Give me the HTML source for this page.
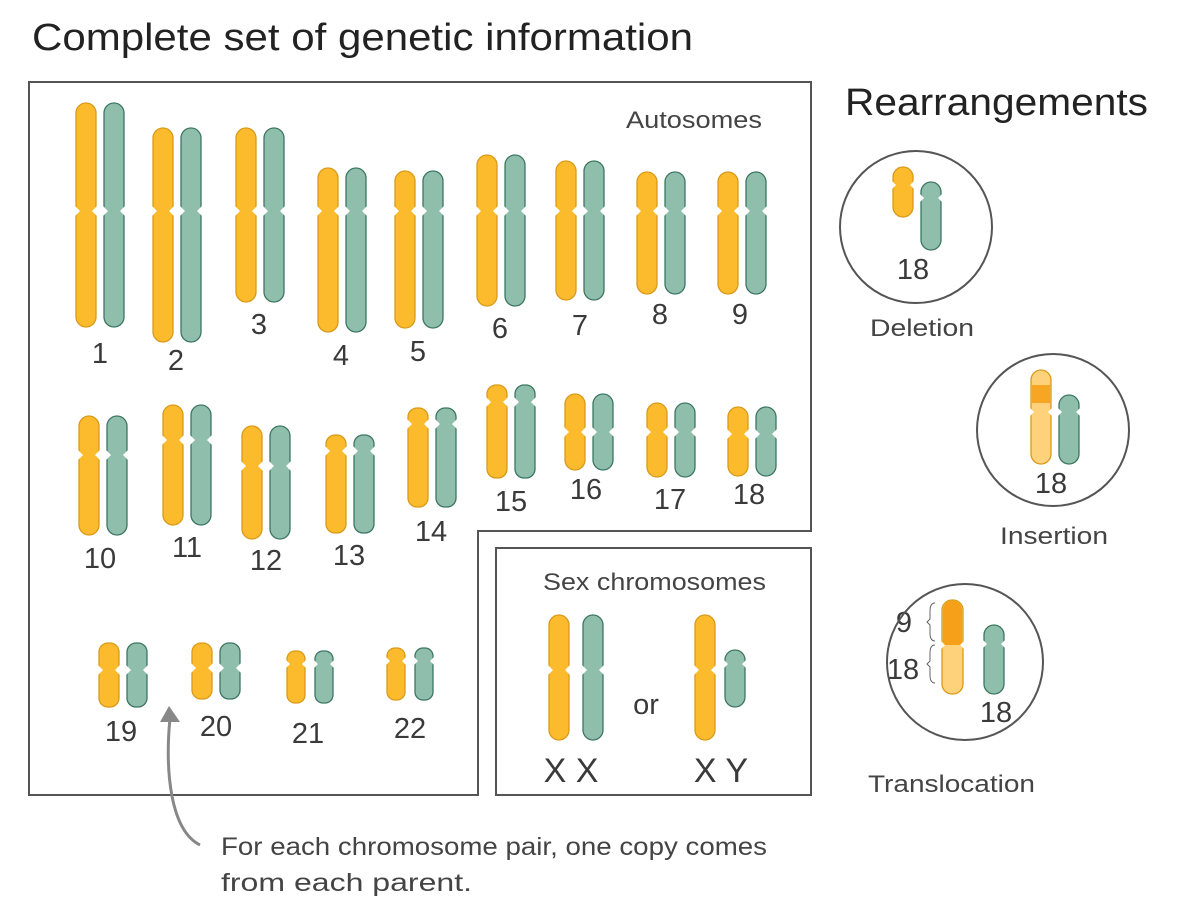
<!DOCTYPE html>
<html><head><meta charset="utf-8"><style>
body{margin:0;background:#fff}
svg{display:block;font-family:"Liberation Sans",sans-serif;fill:#333}
.y{fill:#fbbb2d;stroke:#d99a1a;stroke-width:1.3}
.g{fill:#8fbfac;stroke:#3d7563;stroke-width:1.3}
.l{font-size:29px;text-anchor:middle;fill:#3a3a3a}
</style></head><body>
<svg width="1178" height="915" viewBox="0 0 1178 915">
<text x="32" y="50" font-size="38" fill="#222" textLength="661" lengthAdjust="spacingAndGlyphs">Complete set of genetic information</text>
<text x="845" y="115" font-size="38" fill="#222" textLength="303" lengthAdjust="spacingAndGlyphs">Rearrangements</text>
<path d="M29,82H811V531H478V795H29Z" fill="none" stroke="#555" stroke-width="2"/>
<rect x="496" y="548" width="315" height="247" fill="none" stroke="#555" stroke-width="2"/>
<text x="626" y="128" font-size="24" fill="#444" textLength="136" lengthAdjust="spacingAndGlyphs">Autosomes</text>
<text x="543" y="590" font-size="24" fill="#444" textLength="223" lengthAdjust="spacingAndGlyphs">Sex chromosomes</text>
<g>
<rect class="y" x="76" y="103" width="20" height="224" rx="10"/><rect class="g" x="104" y="103" width="20" height="224" rx="10"/>
<rect class="y" x="153" y="128" width="20" height="214" rx="10"/><rect class="g" x="181" y="128" width="20" height="214" rx="10"/>
<rect class="y" x="236" y="128" width="20" height="174" rx="10"/><rect class="g" x="264" y="128" width="20" height="174" rx="10"/>
<rect class="y" x="318" y="168" width="20" height="164" rx="10"/><rect class="g" x="346" y="168" width="20" height="164" rx="10"/>
<rect class="y" x="395" y="171" width="20" height="157" rx="10"/><rect class="g" x="423" y="171" width="20" height="157" rx="10"/>
<rect class="y" x="477" y="155" width="20" height="151" rx="10"/><rect class="g" x="505" y="155" width="20" height="151" rx="10"/>
<rect class="y" x="556" y="161" width="20" height="139" rx="10"/><rect class="g" x="584" y="161" width="20" height="139" rx="10"/>
<rect class="y" x="637" y="172" width="20" height="122" rx="10"/><rect class="g" x="665" y="172" width="20" height="122" rx="10"/>
<rect class="y" x="718" y="172" width="20" height="122" rx="10"/><rect class="g" x="746" y="172" width="20" height="122" rx="10"/>
<rect class="y" x="79" y="416" width="20" height="119" rx="10"/><rect class="g" x="107" y="416" width="20" height="119" rx="10"/>
<rect class="y" x="163" y="405" width="20" height="120" rx="10"/><rect class="g" x="191" y="405" width="20" height="120" rx="10"/>
<rect class="y" x="242" y="426" width="20" height="113" rx="10"/><rect class="g" x="270" y="426" width="20" height="113" rx="10"/>
<rect class="y" x="326" y="435" width="20" height="98" rx="9"/><rect class="g" x="354" y="435" width="20" height="98" rx="9"/>
<rect class="y" x="408" y="408" width="20" height="99" rx="9"/><rect class="g" x="436" y="408" width="20" height="99" rx="9"/>
<rect class="y" x="487" y="385" width="20" height="93" rx="9"/><rect class="g" x="515" y="385" width="20" height="93" rx="9"/>
<rect class="y" x="565" y="394" width="20" height="76" rx="10"/><rect class="g" x="593" y="394" width="20" height="76" rx="10"/>
<rect class="y" x="647" y="403" width="20" height="74" rx="10"/><rect class="g" x="675" y="403" width="20" height="74" rx="10"/>
<rect class="y" x="728" y="407" width="20" height="69" rx="10"/><rect class="g" x="756" y="407" width="20" height="69" rx="10"/>
<rect class="y" x="99" y="643" width="20" height="64" rx="9"/><rect class="g" x="127" y="643" width="20" height="64" rx="9"/>
<rect class="y" x="192" y="643" width="20" height="56" rx="9"/><rect class="g" x="220" y="643" width="20" height="56" rx="9"/>
<rect class="y" x="287" y="651" width="18" height="52" rx="8"/><rect class="g" x="315" y="651" width="18" height="52" rx="8"/>
<rect class="y" x="387" y="648" width="18" height="52" rx="8"/><rect class="g" x="415" y="648" width="18" height="52" rx="8"/>
<rect class="y" x="549" y="615" width="20" height="125" rx="10"/><rect class="g" x="583" y="615" width="20" height="125" rx="10"/>
<rect class="y" x="695" y="615" width="20" height="125" rx="10"/><rect class="g" x="725" y="650" width="20" height="57" rx="10"/>
<rect class="y" x="893" y="167" width="20" height="50" rx="10"/><rect class="g" x="921" y="182" width="20" height="68" rx="10"/>
<rect class="y" x="1031" y="370" width="20" height="94" rx="10" style="fill:#fdd27a"/><rect x="1032" y="385" width="18" height="18" fill="#f6a623"/>
<rect class="g" x="1059" y="395" width="20" height="69" rx="10"/>
<rect class="y" x="942" y="600" width="21" height="94" rx="10" style="fill:#fdd27a"/><path d="M943,645V610a9.5,9.5 0 0 1 19,0V645Z" fill="#f6a019"/>
<rect class="g" x="984" y="625" width="20" height="69" rx="10"/>
</g>
<g fill="#fff">
<path d="M74,205l6,6-6,6ZM98,205l-6,6 6,6ZM102,205l6,6-6,6ZM126,205l-6,6 6,6Z"/>
<path d="M151,205l6,6-6,6ZM175,205l-6,6 6,6ZM179,205l6,6-6,6ZM203,205l-6,6 6,6Z"/>
<path d="M234,205l6,6-6,6ZM258,205l-6,6 6,6ZM262,205l6,6-6,6ZM286,205l-6,6 6,6Z"/>
<path d="M316,205l6,6-6,6ZM340,205l-6,6 6,6ZM344,205l6,6-6,6ZM368,205l-6,6 6,6Z"/>
<path d="M393,205l6,6-6,6ZM417,205l-6,6 6,6ZM421,205l6,6-6,6ZM445,205l-6,6 6,6Z"/>
<path d="M475,205l6,6-6,6ZM499,205l-6,6 6,6ZM503,205l6,6-6,6ZM527,205l-6,6 6,6Z"/>
<path d="M554,205l6,6-6,6ZM578,205l-6,6 6,6ZM582,205l6,6-6,6ZM606,205l-6,6 6,6Z"/>
<path d="M635,205l6,6-6,6ZM659,205l-6,6 6,6ZM663,205l6,6-6,6ZM687,205l-6,6 6,6Z"/>
<path d="M716,205l6,6-6,6ZM740,205l-6,6 6,6ZM744,205l6,6-6,6ZM768,205l-6,6 6,6Z"/>
<path d="M77,449l6,6-6,6ZM101,449l-6,6 6,6ZM105,449l6,6-6,6ZM129,449l-6,6 6,6Z"/>
<path d="M161,434l6,6-6,6ZM185,434l-6,6 6,6ZM189,434l6,6-6,6ZM213,434l-6,6 6,6Z"/>
<path d="M240,460l6,6-6,6ZM264,460l-6,6 6,6ZM268,460l6,6-6,6ZM292,460l-6,6 6,6Z"/>
<path d="M324,445l6,6-6,6ZM348,445l-6,6 6,6ZM352,445l6,6-6,6ZM376,445l-6,6 6,6Z"/>
<path d="M406,418l6,6-6,6ZM430,418l-6,6 6,6ZM434,418l6,6-6,6ZM458,418l-6,6 6,6Z"/>
<path d="M485,396l6,6-6,6ZM509,396l-6,6 6,6ZM513,396l6,6-6,6ZM537,396l-6,6 6,6Z"/>
<path d="M563,426l6,6-6,6ZM587,426l-6,6 6,6ZM591,426l6,6-6,6ZM615,426l-6,6 6,6Z"/>
<path d="M645,426l6,6-6,6ZM669,426l-6,6 6,6ZM673,426l6,6-6,6ZM697,426l-6,6 6,6Z"/>
<path d="M726,428l6,6-6,6ZM750,428l-6,6 6,6ZM754,428l6,6-6,6ZM778,428l-6,6 6,6Z"/>
<path d="M97,664l6,6-6,6ZM121,664l-6,6 6,6ZM125,664l6,6-6,6ZM149,664l-6,6 6,6Z"/>
<path d="M190,662l6,6-6,6ZM214,662l-6,6 6,6ZM218,662l6,6-6,6ZM242,662l-6,6 6,6Z"/>
<path d="M285,659l5,5-5,5ZM307,659l-5,5 5,5ZM313,659l5,5-5,5ZM335,659l-5,5 5,5Z"/>
<path d="M385,656l5,5-5,5ZM407,656l-5,5 5,5ZM413,656l5,5-5,5ZM435,656l-5,5 5,5Z"/>
<path d="M547,664l6,6-6,6ZM571,664l-6,6 6,6ZM581,664l6,6-6,6ZM605,664l-6,6 6,6Z"/>
<path d="M693,664l6,6-6,6ZM717,664l-6,6 6,6ZM723,659l5,5-5,5ZM747,659l-5,5 5,5Z"/>
<path d="M891,180l5,5-5,5ZM915,180l-5,5 5,5ZM919,193l5,5-5,5ZM943,193l-5,5 5,5Z"/>
<path d="M1029,407l5,5-5,5ZM1053,407l-5,5 5,5ZM1057,407l5,5-5,5ZM1081,407l-5,5 5,5Z"/>
<path d="M940,640l5,5-5,5ZM965,640l-5,5 5,5ZM982,639l5,5-5,5ZM1006,639l-5,5 5,5Z"/>
</g>
<g class="l">
<text x="100" y="363">1</text><text x="176" y="370">2</text><text x="259" y="334">3</text><text x="341" y="365">4</text><text x="418" y="361">5</text><text x="500" y="338">6</text><text x="580" y="335">7</text><text x="660" y="324">8</text><text x="740" y="324">9</text>
<text x="100" y="568">10</text><text x="187" y="557">11</text><text x="266" y="570">12</text><text x="349" y="565">13</text><text x="431" y="541">14</text><text x="511" y="511">15</text><text x="586" y="499">16</text><text x="670" y="509">17</text><text x="749" y="504">18</text>
<text x="121" y="741">19</text><text x="216" y="736">20</text><text x="308" y="743">21</text><text x="410" y="738">22</text>
<text x="571" y="782" font-size="34">X X</text><text x="721" y="782" font-size="34">X Y</text><text x="646" y="714">or</text>
<text x="913" y="279">18</text><text x="1051" y="493">18</text><text x="904" y="632">9</text><text x="903" y="679">18</text><text x="996" y="722">18</text>
</g>
<circle cx="916" cy="227" r="76" fill="none" stroke="#555" stroke-width="2"/>
<circle cx="1053" cy="430" r="76" fill="none" stroke="#555" stroke-width="2"/>
<circle cx="965" cy="662" r="78" fill="none" stroke="#555" stroke-width="2"/>
<path d="M935,603q-5,0-5,8v8l-3,3 3,3v8q0,8 5,8M935,645q-5,0-5,8v8l-3,3 3,3v8q0,8 5,8" fill="none" stroke="#666" stroke-width="1"/>
<g font-size="24" fill="#444">
<text x="870" y="336" textLength="104" lengthAdjust="spacingAndGlyphs">Deletion</text>
<text x="1000" y="544" textLength="108" lengthAdjust="spacingAndGlyphs">Insertion</text>
<text x="868" y="792" textLength="167" lengthAdjust="spacingAndGlyphs">Translocation</text>
</g>
<path d="M200,845C170,830 165,770 170,718" fill="none" stroke="#888" stroke-width="3"/>
<path d="M160,722L169,706 180,722Z" fill="#888"/>
<text x="221" y="855" font-size="25" fill="#444" textLength="546" lengthAdjust="spacingAndGlyphs">For each chromosome pair, one copy comes</text>
<text x="221" y="891" font-size="25" fill="#444" textLength="251" lengthAdjust="spacingAndGlyphs">from each parent.</text>
</svg>
</body></html>
